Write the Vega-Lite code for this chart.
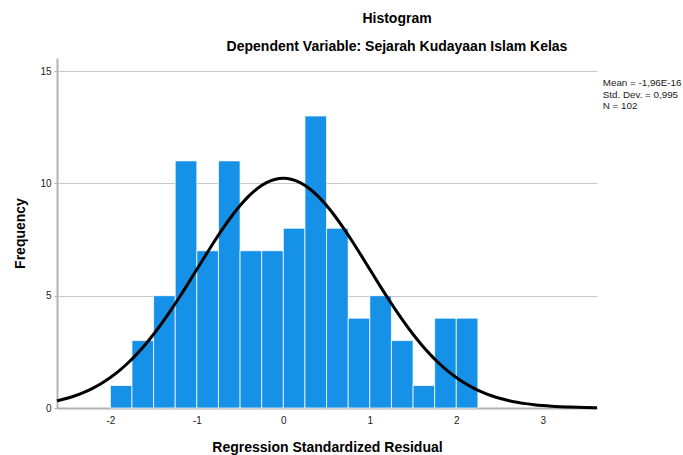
{
  "$schema": "https://vega.github.io/schema/vega-lite/v6.json",
  "width": 540,
  "height": 350,
  "autosize": {"type": "none"},
  "padding": {"left": 57, "top": 58, "right": 86, "bottom": 47},
  "background": "white",
  "config": {
    "font": "Liberation Sans",
    "view": {"stroke": null},
    "axis": {"labelFont": "Liberation Sans", "titleFont": "Liberation Sans"}
  },
  "title": {
    "text": "Histogram",
    "subtitle": "Dependent Variable: Sejarah Kudayaan Islam Kelas",
    "anchor": "middle",
    "frame": "group",
    "dx": 70,
    "offset": 4,
    "font": "Liberation Sans",
    "fontSize": 14,
    "fontWeight": "bold",
    "color": "#000000",
    "subtitleFont": "Liberation Sans",
    "subtitleFontSize": 14,
    "subtitleFontWeight": "bold",
    "subtitleColor": "#000000",
    "subtitlePadding": 14
  },
  "datasets": {
    "bins": [
      {"lo": -2.0, "hi": -1.75, "count": 1},
      {"lo": -1.75, "hi": -1.5, "count": 3},
      {"lo": -1.5, "hi": -1.25, "count": 5},
      {"lo": -1.25, "hi": -1.0, "count": 11},
      {"lo": -1.0, "hi": -0.75, "count": 7},
      {"lo": -0.75, "hi": -0.5, "count": 11},
      {"lo": -0.5, "hi": -0.25, "count": 7},
      {"lo": -0.25, "hi": 0.0, "count": 7},
      {"lo": 0.0, "hi": 0.25, "count": 8},
      {"lo": 0.25, "hi": 0.5, "count": 13},
      {"lo": 0.5, "hi": 0.75, "count": 8},
      {"lo": 0.75, "hi": 1.0, "count": 4},
      {"lo": 1.0, "hi": 1.25, "count": 5},
      {"lo": 1.25, "hi": 1.5, "count": 3},
      {"lo": 1.5, "hi": 1.75, "count": 1},
      {"lo": 1.75, "hi": 2.0, "count": 4},
      {"lo": 2.0, "hi": 2.25, "count": 4}
    ],
    "curve": [
      {"x": -2.617, "y": 0.322},
      {"x": -2.6, "y": 0.337},
      {"x": -2.5, "y": 0.435},
      {"x": -2.4, "y": 0.558},
      {"x": -2.3, "y": 0.707},
      {"x": -2.2, "y": 0.887},
      {"x": -2.1, "y": 1.103},
      {"x": -2.0, "y": 1.356},
      {"x": -1.9, "y": 1.652},
      {"x": -1.8, "y": 1.991},
      {"x": -1.7, "y": 2.376},
      {"x": -1.6, "y": 2.806},
      {"x": -1.5, "y": 3.282},
      {"x": -1.4, "y": 3.8},
      {"x": -1.3, "y": 4.355},
      {"x": -1.2, "y": 4.94},
      {"x": -1.1, "y": 5.549},
      {"x": -1.0, "y": 6.17},
      {"x": -0.9, "y": 6.792},
      {"x": -0.8, "y": 7.401},
      {"x": -0.7, "y": 7.983},
      {"x": -0.6, "y": 8.524},
      {"x": -0.5, "y": 9.011},
      {"x": -0.4, "y": 9.43},
      {"x": -0.3, "y": 9.77},
      {"x": -0.2, "y": 10.02},
      {"x": -0.1, "y": 10.172},
      {"x": 0.0, "y": 10.224},
      {"x": 0.1, "y": 10.172},
      {"x": 0.2, "y": 10.02},
      {"x": 0.3, "y": 9.77},
      {"x": 0.4, "y": 9.43},
      {"x": 0.5, "y": 9.011},
      {"x": 0.6, "y": 8.524},
      {"x": 0.7, "y": 7.983},
      {"x": 0.8, "y": 7.401},
      {"x": 0.9, "y": 6.792},
      {"x": 1.0, "y": 6.17},
      {"x": 1.1, "y": 5.549},
      {"x": 1.2, "y": 4.94},
      {"x": 1.3, "y": 4.355},
      {"x": 1.4, "y": 3.8},
      {"x": 1.5, "y": 3.282},
      {"x": 1.6, "y": 2.806},
      {"x": 1.7, "y": 2.376},
      {"x": 1.8, "y": 1.991},
      {"x": 1.9, "y": 1.652},
      {"x": 2.0, "y": 1.356},
      {"x": 2.1, "y": 1.103},
      {"x": 2.2, "y": 0.887},
      {"x": 2.3, "y": 0.707},
      {"x": 2.4, "y": 0.558},
      {"x": 2.5, "y": 0.435},
      {"x": 2.6, "y": 0.337},
      {"x": 2.7, "y": 0.257},
      {"x": 2.8, "y": 0.195},
      {"x": 2.9, "y": 0.146},
      {"x": 3.0, "y": 0.109},
      {"x": 3.1, "y": 0.0798},
      {"x": 3.2, "y": 0.058},
      {"x": 3.3, "y": 0.0418},
      {"x": 3.4, "y": 0.0298},
      {"x": 3.5, "y": 0.021},
      {"x": 3.6, "y": 0.0147},
      {"x": 3.627, "y": 0.0133}
    ],
    "stats": [
      {"order": 1, "label": "Mean = -1,96E-16"},
      {"order": 2, "label": "Std. Dev. = 0,995"},
      {"order": 3, "label": "N = 102"}
    ]
  },
  "layer": [
    {
      "data": {"name": "bins"},
      "mark": {"type": "rect", "color": "#1591e8", "stroke": "#ffffff", "strokeWidth": 1, "strokeOpacity": 0.75},
      "encoding": {
        "x": {
          "field": "lo",
          "type": "quantitative",
          "scale": {"domain": [-2.617, 3.627], "nice": false, "zero": false},
          "axis": {
            "values": [-2, -1, 0, 1, 2, 3],
            "labelExpr": "datum.value < 0 ? '-' + abs(datum.value) : '' + datum.value",
            "title": "Regression Standardized Residual",
            "titleFontSize": 14,
            "titleFontWeight": "bold",
            "titleColor": "#000000",
            "titlePadding": 15,
            "labelFontSize": 10,
            "labelColor": "#222222",
            "labelPadding": 7,
            "ticks": false,
            "grid": false,
            "domainColor": "#b4b4b4",
            "domainWidth": 2
          }
        },
        "x2": {"field": "hi"},
        "y": {
          "field": "count",
          "type": "quantitative",
          "scale": {"domain": [0, 15.58], "nice": false},
          "axis": {
            "values": [0, 5, 10, 15],
            "title": "Frequency",
            "titleFontSize": 14,
            "titleFontWeight": "bold",
            "titleColor": "#000000",
            "titlePadding": 12,
            "labelFontSize": 10,
            "labelColor": "#222222",
            "labelPadding": 3,
            "tickSize": 3,
            "tickColor": "#b4b4b4",
            "grid": true,
            "gridColor": "#c8c8c8",
            "gridWidth": 1,
            "domainColor": "#b4b4b4",
            "domainWidth": 2
          }
        },
        "y2": {"datum": 0}
      }
    },
    {
      "data": {"name": "curve"},
      "mark": {"type": "line", "color": "#000000", "strokeWidth": 3, "interpolate": "monotone"},
      "encoding": {
        "x": {"field": "x", "type": "quantitative"},
        "y": {"field": "y", "type": "quantitative"}
      }
    },
    {
      "data": {"name": "stats"},
      "mark": {"type": "text", "text": ""},
      "encoding": {
        "color": {
          "field": "label",
          "type": "nominal",
          "sort": {"field": "order"},
          "scale": {"range": ["#000000", "#000000", "#000000"]},
          "legend": {
            "title": null,
            "orient": "none",
            "legendX": 536,
            "legendY": 20,
            "padding": 0,
            "symbolOpacity": 0,
            "symbolSize": 0,
            "symbolStrokeWidth": 0,
            "labelOffset": 0,
            "labelFont": "Liberation Sans",
            "labelFontSize": 9.8,
            "labelColor": "#222222",
            "labelLimit": 200,
            "rowPadding": 0.6
          }
        }
      }
    }
  ]
}
